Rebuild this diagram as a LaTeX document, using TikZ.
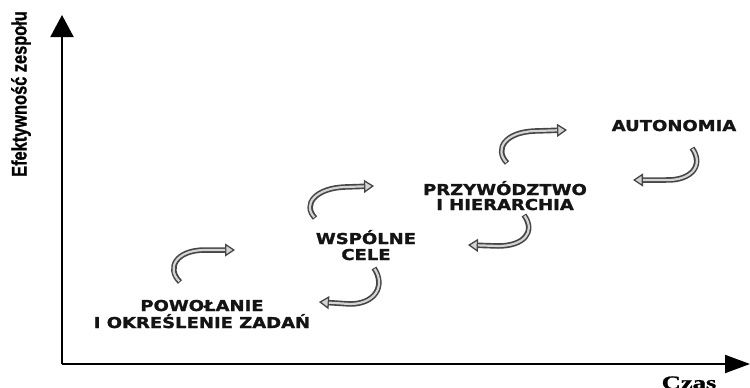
\documentclass[tikz,border=0pt]{standalone}
\usepackage{fontspec}
\usepackage{graphicx}
\usetikzlibrary{arrows.meta}
\newfontfamily\lblfont{DejaVu Sans Bold}[FakeBold=1.3]
\newfontfamily\axfont{Liberation Sans Bold}[FakeBold=1]
\newfontfamily\czfont{Liberation Serif Bold}[FakeBold=1]
\definecolor{cdark}{HTML}{454545}
\definecolor{clight}{HTML}{D4D4D4}
\definecolor{ctext}{HTML}{141414}
\tikzset{
  lbl/.style={anchor=base, inner sep=0pt, text=ctext, font=\lblfont\fontsize{15}{17}\selectfont, xscale=1.2, transform shape},
  axis/.style={line width=2pt, draw=black},
  carrow/.style={line width=5.5pt, draw=cdark, -{Triangle[length=10pt,width=13pt,line width=1.3pt,fill=clight]}},
  cinner/.style={line width=2.2pt, draw=clight, shorten >=10pt, shorten <=1pt},
}
\newcommand\carr[1]{\draw[carrow] #1; \draw[cinner] #1;}
\begin{document}
\begin{tikzpicture}[x=1pt,y=-1pt]
\useasboundingbox (0,0) rectangle (750,388);
% axes
\coordinate (O) at (62,364);
\coordinate (ytip) at (62,15);
\coordinate (xtip) at (750,364);
\draw[axis, -{Triangle[length=22pt,width=23pt]}] (O) -- (ytip);
\draw[axis, -{Triangle[length=25pt,width=18pt]}] (O) -- (xtip);
% axis labels
\node[rotate=90, inner sep=0pt, font=\axfont\fontsize{21}{24}\selectfont] (ylab) at (21,94) {\scalebox{0.78}[1]{Efektywność zespołu}};
\node[anchor=base, inner sep=0pt, font=\czfont\fontsize{19}{22}\selectfont] (xlab) at (689,389) {\scalebox{1.4}[1]{Czas}};
% stage labels
\node[lbl] (pow1) at (202,311) {POWOŁANIE};
\node[lbl] (pow2) at (202,328) {I OKREŚLENIE ZADAŃ};
\node[lbl] (wsp1) at (366,244) {WSPÓLNE};
\node[lbl] (wsp2) at (366,260) {CELE};
\node[lbl] (prz1) at (505,195) {PRZYWÓDZTWO};
\node[lbl] (prz2) at (505,210) {I HIERARCHIA};
\node[lbl] (aut) at (674,131) {AUTONOMIA};
% curved arrows
\carr{(180,282) .. controls (166,268) and (176,250) .. (205,250) -- (235,250)}
\carr{(374,268) .. controls (386,286) and (375,304) .. (350,304) -- (319,302)}
\carr{(315,218) .. controls (302,204) and (316,188) .. (345,187) -- (374,186)}
\carr{(524,215) .. controls (536,232) and (524,246) .. (498,246) -- (468,245)}
\carr{(507,163) .. controls (494,149) and (505,132) .. (535,131) -- (567,130)}
\carr{(692,148) .. controls (704,165) and (692,181) .. (665,180) -- (633,180)}
\end{tikzpicture}
\end{document}
